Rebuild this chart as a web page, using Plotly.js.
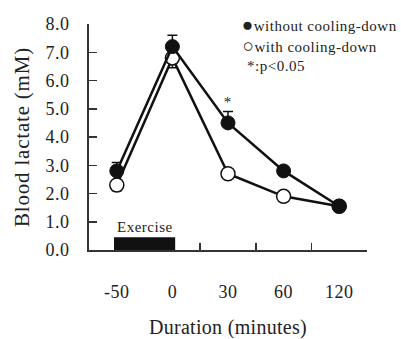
<!DOCTYPE html>
<html>
<head>
<meta charset="utf-8">
<script src="https://cdn.plot.ly/plotly-3.0.1.min.js"></script>
<style>
html,body{margin:0;padding:0;background:#fff;}
#chart{width:401px;height:339px;}
#chart svg text{letter-spacing:0.5px;}
#chart svg text.ytitle{letter-spacing:0.8px;}
#chart svg text.xtitle{letter-spacing:0.3px;}
</style>
</head>
<body>
<div id="chart"></div>
<script>
var categories = ['-50', '0', '30', '60', '120'];
var withoutCooling = [2.8, 7.2, 4.5, 2.8, 1.55];
var withoutCoolingErrUp = [0.3, 0.4, 0.4, 0, 0];
var withCooling = [2.3, 6.8, 2.7, 1.9, 1.55];
var withCoolingErrDown = [0.2, 0.35, 0, 0, 0];
var yTickVals = [0, 1, 2, 3, 4, 5, 6, 7, 8];
var yTickText = ['0.0', '1.0', '2.0', '3.0', '4.0', '5.0', '6.0', '7.0', '8.0'];
var exerciseBar = {x0: -0.05, x1: 1.05, y0: 0, y1: 0.45};

var serif = 'Liberation Serif, Times New Roman, serif';

var traces = [
  {
    x: categories, y: withCooling, type: 'scatter', mode: 'lines+markers',
    line: {color: '#111', width: 2.5},
    marker: {size: 14, color: '#fff', line: {color: '#111', width: 1.5}},
    error_y: {type: 'data', symmetric: false, array: [0,0,0,0,0], arrayminus: withCoolingErrDown,
      color: '#111', thickness: 1.5, width: 5},
    cliponaxis: false
  },
  {
    x: categories, y: withoutCooling, type: 'scatter', mode: 'lines+markers',
    line: {color: '#111', width: 2.5},
    marker: {size: 14, color: '#111', line: {color: '#111', width: 1}},
    error_y: {type: 'data', symmetric: false, array: withoutCoolingErrUp, arrayminus: [0,0,0,0,0],
      color: '#111', thickness: 1.5, width: 5},
    cliponaxis: false
  }
];

var layout = {
  width: 401, height: 339,
  margin: {l: 89, r: 34, t: 24, b: 89},
  paper_bgcolor: '#fff', plot_bgcolor: '#fff',
  showlegend: false,
  font: {family: serif, color: '#222'},
  xaxis: {
    type: 'category', range: [-0.5, 4.5], tickson: 'boundaries',
    ticks: 'inside', ticklen: 7, tickwidth: 1.5, tickcolor: '#333',
    showline: true, linecolor: '#333', linewidth: 2,
    showgrid: false, zeroline: false,
    tickfont: {family: serif, size: 18, color: '#222'},
    ticklabelstandoff: 24,
    title: {text: 'Duration (minutes)', font: {family: serif, size: 20, color: '#222'}, standoff: 27}
  },
  yaxis: {
    range: [0, 8], tickvals: yTickVals, ticktext: yTickText,
    ticks: 'inside', ticklen: 8, tickwidth: 1.5, tickcolor: '#333',
    showline: true, linecolor: '#333', linewidth: 2,
    showgrid: false, zeroline: false,
    tickfont: {family: serif, size: 18, color: '#222'},
    ticklabelstandoff: 14,
    title: {text: 'Blood lactate (mM)', font: {family: serif, size: 21, color: '#222'}, standoff: 12}
  },
  shapes: [
    {type: 'rect', xref: 'x', yref: 'y', x0: exerciseBar.x0, x1: exerciseBar.x1, y0: exerciseBar.y0, y1: exerciseBar.y1,
      fillcolor: '#111', line: {width: 0}}
  ],
  annotations: [
    {xref: 'x', yref: 'y', x: 0.5, y: exerciseBar.y1 + 0.02, yanchor: 'bottom', showarrow: false, text: 'Exercise',
      font: {family: serif, size: 15, color: '#222'}},
    {xref: 'x', yref: 'y', x: 2, y: 4.9, yanchor: 'bottom', showarrow: false, text: '*',
      font: {family: serif, size: 15, color: '#222'}},
    {xref: 'paper', yref: 'paper', x: 0.56, y: 1.0, xanchor: 'left', yanchor: 'middle', showarrow: false,
      text: '<span style="font-size:19px">●</span>without cooling-down', font: {family: serif, size: 15, color: '#222'}},
    {xref: 'paper', yref: 'paper', x: 0.56, y: 0.905, xanchor: 'left', yanchor: 'middle', showarrow: false,
      text: '<span style="font-size:19px">○</span>with cooling-down', font: {family: serif, size: 15, color: '#222'}},
    {xref: 'paper', yref: 'paper', x: 0.57, y: 0.815, xanchor: 'left', yanchor: 'middle', showarrow: false,
      text: '*:p<0.05', font: {family: serif, size: 15, color: '#222'}}
  ]
};

Plotly.newPlot('chart', traces, layout, {displayModeBar: false, staticPlot: true});
</script>
</body>
</html>
